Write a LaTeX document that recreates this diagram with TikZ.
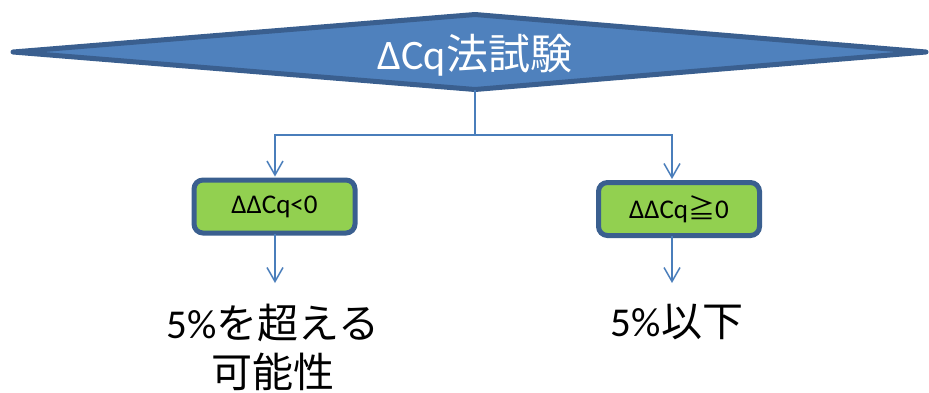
\documentclass[tikz,border=0pt]{standalone}
\usepackage{fontspec}
\setmainfont{Carlito}
\newfontfamily\jp{Noto Sans CJK JP}
\usetikzlibrary{arrows.meta}
\definecolor{dfill}{HTML}{4F81BD}
\definecolor{dline}{HTML}{3A5F8F}
\definecolor{gfill}{HTML}{92D050}
\definecolor{cline}{HTML}{4A7EBB}
\tikzset{
  conn/.style={draw=cline, line width=1.5pt},
  arr/.style={conn, -{Straight Barb[length=14pt,width=16pt,line width=1.5pt]}},
  gbox/.style={draw=dline, fill=gfill, line width=5pt, rounded corners=9pt, minimum width=161pt, minimum height=53pt, inner sep=0pt},
}
\begin{document}
\begin{tikzpicture}[x=1pt,y=-1pt]
\useasboundingbox (0,0) rectangle (929,392);
% diamond
\coordinate (dl) at (13,52);
\coordinate (dt) at (475,14.5);
\coordinate (dr) at (926,52);
\coordinate (db) at (475,89.5);
\draw[draw=dline, fill=dfill, line width=5pt, line join=round] (dl) -- (dt) -- (dr) -- (db) -- cycle;
\node[text=white, font=\fontsize{42}{48}\selectfont] (d) at (475,55) {ΔCq{\jp 法試験}};
% boxes
\node[gbox, font=\fontsize{27}{32}\selectfont] (b1) at (274.5,206.5) {ΔΔCq<0};
\node[gbox, font=\fontsize{27}{32}\selectfont] (b2) at (679,209) {ΔΔCq{\jp ≧}0};
% result texts
\node[align=center, font=\fontsize{41}{49}\selectfont, inner sep=0pt] (r1) at (273,347) {5\%{\jp を超える}\\{\jp 可能性}};
\node[font=\fontsize{41}{49}\selectfont, inner sep=0pt] (r2) at (677,322) {5\%{\jp 以下}};
% connectors
\coordinate (hj) at (475,135);
\coordinate (hl) at (275,135);
\coordinate (hr) at (672,135);
\draw[conn] (db) -- (hj);
\draw[arr] (hj) -- (hl) -- ([yshift=1pt]hl |- b1.north);
\draw[arr] (hj) -- (hr) -- ([yshift=1pt]hr |- b2.north);
\coordinate (a1) at (275,283);
\coordinate (a2) at (672,283);
\draw[arr] ([yshift=2pt]b1.south -| a1) -- (a1);
\draw[arr] ([yshift=2pt]b2.south -| a2) -- (a2);
\end{tikzpicture}
\end{document}
